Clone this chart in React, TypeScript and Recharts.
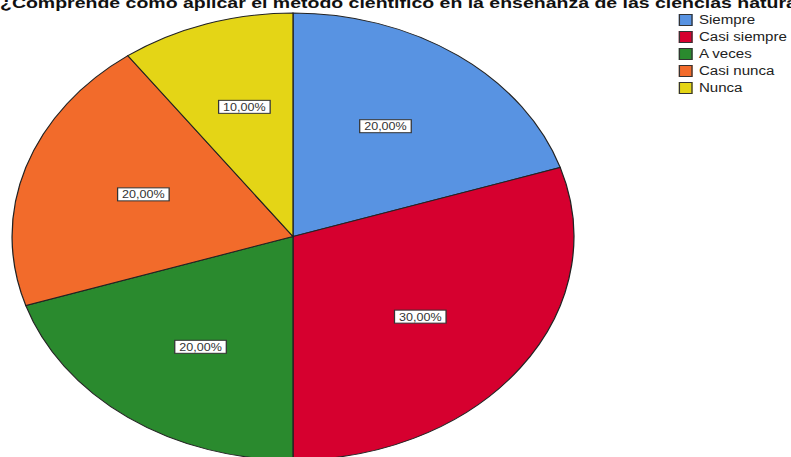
import React from 'react';
import { PieChart, Pie, Cell, Legend } from 'recharts';

const categories = ['Siempre', 'Casi siempre', 'A veces', 'Casi nunca', 'Nunca'];
const percentages = [20, 30, 20, 20, 10];
const colors = ['#5893e2', '#d6002f', '#2a8a2e', '#f26b2b', '#e4d516'];
const title = '¿Comprende cómo aplicar el método científico en la enseñanza de las ciencias naturales?';

const data = categories.map((name, i) => ({ name, value: percentages[i] }));

const SX = 1.257;
const W = 791;
const H = 457;
const IW = Math.round(W / SX);
const FONT = '"Liberation Sans", Arial, Helvetica, sans-serif';
const RADIAN = Math.PI / 180;

const renderLabel = (props: any) => {
  const { cx, cy, midAngle, outerRadius, value } = props;
  const x = cx + outerRadius * 0.56 * Math.cos(-midAngle * RADIAN);
  const y = cy + outerRadius * 0.61 * Math.sin(-midAngle * RADIAN);
  const text = Number(value).toFixed(2).replace('.', ',') + '%';
  return (
    <g>
      <rect x={x - 20.5} y={y - 6.5} width={41} height={13} fill="#ffffff" stroke="#333333" strokeWidth={1} />
      <text x={x} y={y + 0.5} textAnchor="middle" dominantBaseline="central" fontSize={10} fill="#333333" fontFamily={FONT}>
        {text}
      </text>
    </g>
  );
};

const LegendContent = () => {
  return (
    <div style={{ fontFamily: FONT, fontSize: 12 }}>
      {categories.map((name, i) => (
        <div key={name} style={{ display: 'flex', alignItems: 'center', height: 17, whiteSpace: 'nowrap' }}>
          <span
            style={{
              display: 'inline-block',
              width: 11,
              height: 12,
              background: colors[i],
              border: '1px solid #333',
              boxSizing: 'border-box',
            }}
          />
          <span style={{ marginLeft: 5, color: '#222' }}>{name}</span>
        </div>
      ))}
    </div>
  );
};

export default function App() {
  return (
    <div style={{ position: 'absolute', left: 0, top: 0, width: W, height: H, overflow: 'hidden', background: '#fff' }}>
      <div style={{ position: 'absolute', left: 0, top: 0, width: IW, height: H, transform: `scaleX(${SX})`, transformOrigin: '0 0' }}>
        <div
          style={{
            position: 'absolute',
            left: 0,
            top: -5,
            fontFamily: FONT,
            fontSize: 15.5,
            fontWeight: 'bold',
            lineHeight: '15.5px',
            whiteSpace: 'nowrap',
            color: '#111',
            zIndex: 2,
          }}
        >
          {title}
        </div>
        <PieChart width={IW} height={H} margin={{ top: 0, right: 0, bottom: 0, left: 0 }}>
          <Pie
            data={data}
            dataKey="value"
            nameKey="name"
            cx={293 / SX}
            cy={236.5}
            outerRadius={223.5}
            startAngle={90}
            endAngle={-270}
            stroke="#222222"
            strokeWidth={1}
            label={renderLabel}
            labelLine={false}
            isAnimationActive={false}
          >
            {data.map((d, i) => (
              <Cell key={d.name} fill={colors[i]} />
            ))}
          </Pie>
          <Legend
            layout="vertical"
            align="right"
            verticalAlign="top"
            content={<LegendContent />}
            wrapperStyle={{ position: 'absolute', left: 540, top: 11.5, width: 'auto', right: 'auto' }}
          />
        </PieChart>
      </div>
    </div>
  );
}
